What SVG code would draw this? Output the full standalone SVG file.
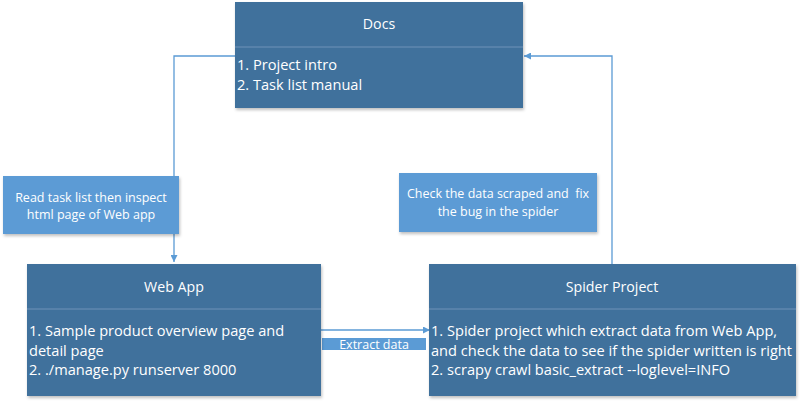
<svg xmlns="http://www.w3.org/2000/svg" width="800" height="402" viewBox="0 0 800 402">
<defs>
<marker id="arr" viewBox="0 0 10 10" refX="10" refY="5" markerWidth="7" markerHeight="7" markerUnits="userSpaceOnUse" orient="auto"><path d="M0,0 L10,5 L0,10 z" fill="#5B9BD5"/></marker>
<filter id="sh" x="-5%" y="-5%" width="110%" height="115%"><feDropShadow dx="1" dy="2" stdDeviation="1.5" flood-color="#000" flood-opacity="0.25"/></filter>
</defs>
<style>
.node{fill:#41719C;filter:url(#sh)}
.div{stroke:#6F93B8;stroke-width:1}
.lbl{fill:#5B9BD5;filter:url(#sh)}
.t{font-family:"Open Sans","Liberation Sans",sans-serif;fill:#fff}
.title{font-size:14.2px;text-anchor:middle}
.body{font-size:14.6px}
.small{font-size:12.5px;text-anchor:middle}
.con{fill:none;stroke:#5B9BD5;stroke-width:1.3}
</style>
<rect width="800" height="402" fill="#fff"/>
<g id="connectors">
<path class="con" d="M235,56 H174 V262" marker-end="url(#arr)"/>
<path class="con" d="M612,264 V56 H524" marker-end="url(#arr)"/>
<path class="con" d="M321,330 H430" marker-end="url(#arr)"/>
<rect x="322" y="338" width="104" height="12" fill="#5B9BD5"/>
<text class="t small" x="374" y="348.5">Extract data</text>
</g>
<g id="docs">
<rect class="node" x="235" y="2" width="288" height="106"/>
<line class="div" x1="235" y1="47" x2="523" y2="47"/>
<text class="t title" x="379" y="29">Docs</text>
<text class="t body" x="237" y="70">1. Project intro</text>
<text class="t body" x="237" y="90">2. Task list manual</text>
</g>
<g id="label-read">
<rect class="lbl" x="3" y="176" width="176" height="58"/>
<text class="t small" x="91" y="202">Read task list then inspect</text>
<text class="t small" x="91" y="219">html page of Web app</text>
</g>
<g id="label-check">
<rect class="lbl" x="399" y="173" width="198" height="59"/>
<text class="t small" x="498" y="198" xml:space="preserve">Check the data scraped and  fix</text>
<text class="t small" x="498" y="216">the bug in the spider</text>
</g>
<g id="webapp">
<rect class="node" x="27" y="264" width="294" height="132"/>
<line class="div" x1="27" y1="309" x2="321" y2="309"/>
<text class="t title" x="174" y="292">Web App</text>
<text class="t body" x="29" y="336">1. Sample product overview page and</text>
<text class="t body" x="29" y="356">detail page</text>
<text class="t body" x="29" y="375">2. ./manage.py runserver 8000</text>
</g>
<g id="spider">
<rect class="node" x="429" y="264" width="367" height="132"/>
<line class="div" x1="429" y1="309" x2="796" y2="309"/>
<text class="t title" x="612" y="292">Spider Project</text>
<text class="t body" x="431" y="336">1. Spider project which extract data from Web App,</text>
<text class="t body" x="431" y="356">and check the data to see if the spider written is right</text>
<text class="t body" x="431" y="375">2. scrapy crawl basic_extract --loglevel=INFO</text>
</g>
</svg>
